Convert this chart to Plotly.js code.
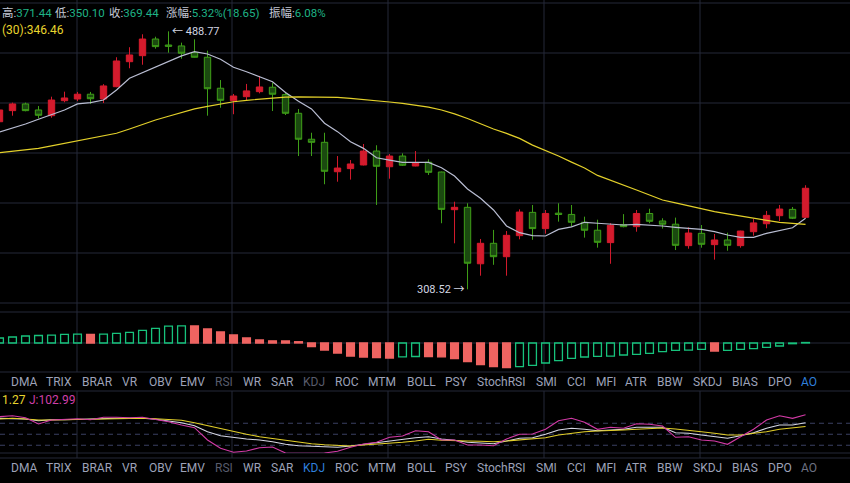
<!DOCTYPE html>
<html><head><meta charset="utf-8">
<script src="https://cdn.plot.ly/plotly-3.0.1.min.js"></script>
<style>html,body{margin:0;padding:0;background:#000;} #chart{width:850px;height:483px;}</style>
</head><body><div id="chart"></div>
<script>
// ---- candle data (price) ----
const openP = [416.0,424.3,429.4,424.8,420.5,431.9,433.2,436.9,433.2,442.8,463.0,468.0,482.1,477.0,476.2,470.5,466.7,441.6,431.9,435.0,438.9,442.4,436.6,422.3,403.2,401.0,380.5,382.6,385.1,394.8,383.9,391.3,384.4,387.0,380.3,355.6,357.1,322.9,334.9,327.0,339.5,353.9,343.8,353.4,352.6,347.7,342.8,335.3,346.2,345.0,353.2,348.5,346.5,333.5,340.9,334.1,336.9,333.5,341.9,346.8,351.8,355.8,350.79];
const highP = [426.3,430.4,430.4,427.8,435.0,438.9,438.7,438.7,444.8,466.7,475.1,486.2,484.1,488.77,479.0,481.9,472.2,448.1,437.1,445.0,451.4,446.0,438.1,425.5,407.9,407.9,391.3,388.5,399.8,398.9,392.7,393.2,394.8,389.0,380.6,360.7,359.7,337.5,343.0,342.3,355.8,358.6,355.4,359.7,358.6,351.2,349.3,347.1,352.8,355.4,356.2,350.2,350.6,344.6,346.0,340.5,341.3,342.5,349.7,354.8,358.6,357.3,371.44];
const lowP = [415.1,420.5,423.8,418.5,419.0,430.7,431.6,429.4,430.1,442.4,457.6,460.5,473.9,470.5,465.5,466.5,420.5,426.5,421.6,431.9,437.6,424.0,421.0,391.3,391.3,372.1,373.8,375.2,384.8,358.6,375.8,384.4,384.2,378.3,347.1,334.9,308.52,316.1,322.3,316.1,337.3,337.0,340.7,348.1,345.0,338.3,332.3,322.9,344.6,341.9,347.1,343.8,330.9,331.7,332.3,325.3,330.5,332.3,339.5,344.0,348.5,349.7,350.10];
const closeP = [424.8,429.4,424.3,420.8,432.4,434.0,436.9,433.4,443.4,463.6,468.6,482.1,475.6,475.9,470.0,466.7,441.2,432.2,435.5,439.5,442.6,436.9,422.3,403.2,401.0,380.8,383.0,385.8,394.8,384.2,391.3,384.9,386.7,380.1,355.8,357.1,323.2,334.9,327.0,339.7,354.1,343.8,353.2,352.6,347.7,342.8,335.5,345.8,345.0,353.2,348.3,346.5,333.7,341.1,334.3,336.9,333.7,342.3,347.3,352.0,356.0,350.2,369.44];
// ---- moving averages ----
const maShort = [408.4,411.2,414.3,417.8,421.1,424.8,429.4,430.4,432.4,440.2,449.5,454.0,458.9,463.3,467.8,471.4,469.4,465.0,458.4,454.8,450.8,446.8,438.2,431.5,425.6,414.9,408.7,401.4,396.7,390.1,388.5,386.9,386.9,386.9,383.2,377.6,369.0,362.9,355.4,345.4,341.3,339.5,339.3,343.3,344.9,347.7,347.1,346.6,346.0,346.4,346.0,345.4,344.6,344.1,343.3,341.9,339.9,338.5,338.5,340.9,342.5,344.3,350.2];
const ma30 = [393.6,394.6,395.6,396.7,398.5,400.3,402.1,403.9,405.7,407.5,410.6,414.0,417.3,420.1,422.8,425.6,427.5,429.4,431.1,432.2,433.2,434.2,434.7,434.9,434.9,434.9,434.5,433.7,432.9,431.9,430.9,429.9,428.6,426.9,424.8,421.9,418.4,414.2,410.6,407.4,403.8,399.0,395.2,391.3,387.1,383.0,378.0,374.9,371.6,368.3,365.0,361.8,359.9,357.9,356.3,354.4,352.9,351.6,350.1,348.8,347.6,347.0,346.46];
// ---- AO histogram ----
const aoValues = [5,6,7,7.5,7.8,8.6,8.9,8.6,8.9,9.7,10.7,12.7,14.7,16.8,17.2,17.0,14,11,8,5,3,2.2,2.0,1.3,-3.7,-7,-10,-13,-14,-14.7,-15,-13.8,-13.5,-13.7,-13.9,-15.7,-18.7,-21.7,-23.7,-24.7,-23.7,-22.3,-20,-17.7,-15.3,-14,-13.3,-13.2,-12,-11.3,-10.3,-8.7,-7.4,-7.2,-6.3,-8,-7.3,-6.3,-5.7,-4.3,-3,-0.7,0.5];
// ---- KDJ ----
const kdjK = [93.5,93.5,91.6,87.0,89.7,89.7,90.8,90.8,93.5,93.5,93.5,93.5,90.8,87.0,81.5,73.4,57.0,46.1,40.6,37.1,34.4,29.7,22.6,18.8,17.2,15.3,14.5,18.0,22.6,27.0,31.6,34.4,40.6,43.4,37.1,33.5,28.1,26.2,24.3,31.6,39.0,40.6,49.9,61.6,66.3,63.5,59.7,61.6,63.5,69.0,69.0,69.0,54.3,52.6,48.0,43.4,39.0,46.1,54.3,66.3,75.3,75.3,81.5];
const kdjD = [91.6,93.5,91.6,88.9,88.9,89.7,90.8,90.8,92.4,92.4,92.4,93.5,92.4,90.8,88.1,81.5,73.4,64.4,57.0,49.9,43.4,39.0,33.5,28.1,24.3,21.5,19.9,18.0,20.7,22.6,25.4,28.1,31.6,36.3,33.5,33.5,31.6,30.8,29.7,31.6,34.4,37.1,40.6,48.0,52.6,57.0,58.9,59.7,61.6,63.5,66.3,67.1,64.4,61.6,57.0,52.6,48.0,48.0,51.5,57.0,63.5,67.9,71.27];
const kdjJ = [97.9,100.6,95.2,78.0,88.9,89.7,92.4,89.7,96.3,96.3,95.2,96.3,90.8,84.3,75.3,67.9,34.4,11.7,0.8,4.4,13.4,15.3,-1.1,-1.9,-1.9,-1.1,3.5,14.5,23.5,28.1,41.7,45.3,59.7,57.0,34.4,34.4,20.7,20.7,18.8,37.1,49.9,50.7,63.5,87.0,93.5,82.6,63.5,69.0,66.3,78.8,77.2,72.5,41.7,43.4,34.4,31.6,22.6,43.4,63.5,88.9,100.6,93.5,102.99];
const kdjLevels = [80, 50, 20];
// ---- header / tabs (visible parts of the texts) ----
const headerItems = [['高', '371.44'], ['低', '350.10'], ['收', '369.44'], ['涨幅', '5.32%(18.65)'], ['振幅', '6.08%']];
const maLabel = '(30):346.46';
const kdjLabelD = '1.27';
const kdjLabelJ = 'J:102.99';
const tabLabels = ['DMA','TRIX','BRAR','VR','OBV','EMV','RSI','WR','SAR','KDJ','ROC','MTM','BOLL','PSY','StochRSI','SMI','CCI','MFI','ATR','BBW','SKDJ','BIAS','DPO','AO'];

// ---- layout helpers (pixel geometry) ----
const W = 850, H = 483;
const py = p => 1 - p / H;
const px = p => p / W;
const headerLeftEdges = [1, 54, 108, 165, 268];
const tabCenters = [23.5,59,97,130,160.7,192.7,224,252.3,282,314,347,382.3,421,456,501,546,576.7,605.7,636,670,707.3,745,780,809.3];
const gridXpx = [77, 232, 388, 544, 700];
const n = closeP.length;
const idx = Array.from({length: n}, (_, i) => i);

const RED = '#d41b2d', GREEN_LINE = '#3f9f18', GREEN_FILL = '#1b4a10';
const AO_GREEN = '#17c27c', AO_RED = '#ef6461';
const GRID = '#252938';
const FONT = 'Roboto, "Noto Sans CJK SC", sans-serif';

const traces = [];
traces.push({
  type: 'candlestick', x: idx, open: openP, high: highP, low: lowP, close: closeP,
  xaxis: 'x', yaxis: 'y', whiskerwidth: 0,
  increasing: {line: {color: RED, width: 1}, fillcolor: RED},
  decreasing: {line: {color: GREEN_LINE, width: 1}, fillcolor: GREEN_FILL},
  hoverinfo: 'skip'
});
traces.push({type: 'scatter', mode: 'lines', x: idx, y: maShort, xaxis: 'x', yaxis: 'y',
  line: {color: '#b9bdd2', width: 1.2}, hoverinfo: 'skip'});
traces.push({type: 'scatter', mode: 'lines', x: idx, y: ma30, xaxis: 'x', yaxis: 'y',
  line: {color: '#e3d02a', width: 1.2}, hoverinfo: 'skip'});

const aoUp = aoValues.map((v, i) => i === 0 || v >= aoValues[i - 1]);
traces.push({type: 'bar', x: idx, y: aoValues, xaxis: 'x', yaxis: 'y2', width: 0.6,
  marker: {color: aoUp.map(u => u ? 'rgba(0,0,0,0)' : AO_RED),
           line: {color: aoUp.map(u => u ? AO_GREEN : AO_RED), width: 1.3}},
  hoverinfo: 'skip'});

traces.push({type: 'scatter', mode: 'lines', x: idx, y: kdjK, xaxis: 'x', yaxis: 'y3',
  line: {color: '#d6d7e4', width: 1.1}, hoverinfo: 'skip'});
traces.push({type: 'scatter', mode: 'lines', x: idx, y: kdjD, xaxis: 'x', yaxis: 'y3',
  line: {color: '#e3d02a', width: 1.1}, hoverinfo: 'skip'});
traces.push({type: 'scatter', mode: 'lines', x: idx, y: kdjJ, xaxis: 'x', yaxis: 'y3',
  line: {color: '#d23aa6', width: 1.1}, hoverinfo: 'skip'});

// shapes
const shapes = [];
const hline = (p, color, dash) => shapes.push({type: 'line', xref: 'paper', yref: 'paper', x0: 0, x1: 1,
  y0: py(p), y1: py(p), line: {color: color || GRID, width: 1, dash: dash || 'solid'}, layer: 'below'});
[3, 53, 103, 153, 203, 253, 303, 312, 343, 372, 391, 453, 458].forEach(p => hline(p));
kdjLevels.forEach(v => shapes.push({type: 'line', xref: 'paper', yref: 'y3', x0: 0, x1: 1, y0: v, y1: v,
  line: {color: '#3b4063', width: 1, dash: '5px,4px'}, layer: 'below'}));
gridXpx.forEach(g => {
  shapes.push({type: 'line', xref: 'paper', yref: 'paper', x0: px(g), x1: px(g), y0: py(372), y1: 1,
    line: {color: GRID, width: 1}, layer: 'below'});
  shapes.push({type: 'line', xref: 'paper', yref: 'paper', x0: px(g), x1: px(g), y0: py(458), y1: py(391),
    line: {color: GRID, width: 1}, layer: 'below'});
});

// annotations
const ann = [];
headerItems.forEach((h, k) => ann.push({xref: 'paper', yref: 'paper',
  x: px(headerLeftEdges[k]), y: py(13), xanchor: 'left', yanchor: 'middle', showarrow: false, borderpad: 0,
  text: '<span style="color:#c4c8d6">' + h[0] + ':</span><span style="color:#1fb386">' + h[1] + '</span>',
  font: {family: FONT, size: 11.5}}));
ann.push({xref: 'paper', yref: 'paper', x: px(1), y: py(30), xanchor: 'left', yanchor: 'middle',
  showarrow: false, borderpad: 0, text: maLabel, font: {family: FONT, size: 12, color: '#e8d52e'}});
let hiI = 0, loI = 0;
highP.forEach((v, i) => { if (v > highP[hiI]) hiI = i; });
lowP.forEach((v, i) => { if (v < lowP[loI]) loI = i; });
ann.push({xref: 'x', yref: 'y', x: hiI, y: Math.log10(highP[hiI]), xanchor: 'left', yanchor: 'middle',
  xshift: 2, showarrow: false, borderpad: 0, text: '← ' + highP[hiI].toFixed(2),
  font: {family: FONT, size: 11, color: '#d3d6e2'}});
ann.push({xref: 'x', yref: 'y', x: loI, y: Math.log10(lowP[loI]), xanchor: 'right', yanchor: 'middle',
  xshift: -2, showarrow: false, borderpad: 0, text: lowP[loI].toFixed(2) + ' →',
  font: {family: FONT, size: 11, color: '#d3d6e2'}});
ann.push({xref: 'paper', yref: 'paper', x: px(1), y: py(400), xanchor: 'left', yanchor: 'middle',
  showarrow: false, borderpad: 0, text: kdjLabelD, font: {family: FONT, size: 12, color: '#e8d52e'}});
ann.push({xref: 'paper', yref: 'paper', x: px(28), y: py(400), xanchor: 'left', yanchor: 'middle',
  showarrow: false, borderpad: 0, text: kdjLabelJ, font: {family: FONT, size: 12, color: '#cf3fa9'}});
const tabColor = (label, row) => {
  if (row === 1) return label === 'AO' ? '#2f7fdc' : (label === 'RSI' || label === 'KDJ') ? '#585c6c' : '#9da2b8';
  return label === 'KDJ' ? '#2f7fdc' : label === 'RSI' ? '#585c6c' : label === 'AO' ? '#6d7183' : '#9da2b8';
};
[[1, 382], [2, 468]].forEach(([row, yp]) => tabLabels.forEach((t, k) => ann.push({
  xref: 'paper', yref: 'paper', x: px(tabCenters[k]), y: py(yp), xanchor: 'center', yanchor: 'middle',
  showarrow: false, borderpad: 0, text: t, font: {family: FONT, size: 12, color: tabColor(t, row)}})));

const logAt = p => 2.48929 + (289.3 - p) * 0.00077456;
const layout = {
  width: W, height: H, margin: {l: 0, r: 0, t: 0, b: 0},
  paper_bgcolor: '#000', plot_bgcolor: 'rgba(0,0,0,0)', showlegend: false,
  xaxis: {domain: [0, 1], range: [0.0385, 65.42], visible: false, showgrid: false, zeroline: false,
          rangeslider: {visible: false}, fixedrange: true},
  yaxis: {type: 'log', domain: [py(303), py(3)], range: [logAt(303), logAt(3)], visible: false,
          showgrid: false, zeroline: false, fixedrange: true},
  yaxis2: {domain: [py(372), py(312)], range: [-29, 31], visible: false, showgrid: false, zeroline: false, fixedrange: true},
  yaxis3: {domain: [py(453), py(391)], range: [-1.1, 168], visible: false, showgrid: false, zeroline: false, fixedrange: true},
  shapes: shapes, annotations: ann
};
Plotly.newPlot('chart', traces, layout, {staticPlot: true, displayModeBar: false});
</script></body></html>
